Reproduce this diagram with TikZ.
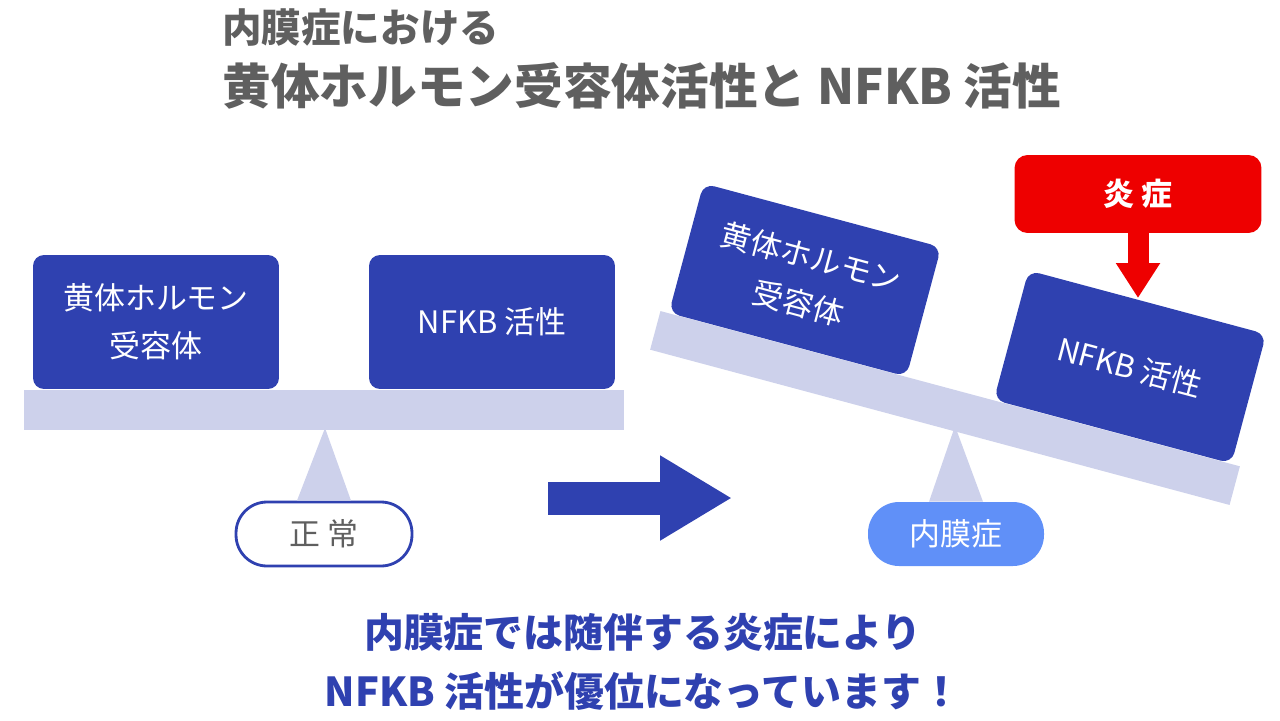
\documentclass[tikz,border=0pt]{standalone}
\usepackage{fontspec}
\setmainfont{Noto Sans CJK JP}
\usetikzlibrary{arrows.meta}
\definecolor{kblue}{HTML}{2F41B0}
\definecolor{klav}{HTML}{CDD1EB}
\definecolor{kpill}{HTML}{6090F8}
\definecolor{kred}{HTML}{EE0000}
\definecolor{kgray}{HTML}{5F5F5F}

\begin{document}
\begin{tikzpicture}[x=0.02cm,y=-0.02cm,
  box/.style={fill=kblue,text=white,rounded corners=0.22cm,minimum width=4.92cm,minimum height=2.68cm,inner sep=0pt,align=center,font=\fontsize{17.6}{27.3}\selectfont},
  beam/.style={fill=klav,minimum width=12cm,minimum height=0.8cm,inner sep=0pt},
  pill/.style={rounded corners=0.62cm,minimum width=3.52cm,minimum height=1.28cm,inner sep=0pt,font=\fontsize{17.6}{20}\selectfont}]
  \useasboundingbox (0,0) rectangle (1280,720);
  % titles
  \node[anchor=west,inner sep=0pt,text=kgray,font=\fontsize{22.5}{26}\selectfont\bfseries] (t1) at (222,28) {内膜症における};
  \node[anchor=west,inner sep=0pt,text=kgray,font=\fontsize{27.7}{32}\selectfont\bfseries] (t2) at (222,86) {黄体ホルモン受容体活性と NFKB 活性};
  % normal balance
  \node[pill,draw=kblue,line width=1.6pt,fill=white,text=kgray] (pN) at (324,534) {正 常};
  \fill[klav] (325,428) -- ([xshift=-0.54cm]pN.north) -- ([xshift=0.54cm]pN.north) -- cycle;
  \node[beam] (bL) at (324,410) {};
  \node[box] (hL) at (156,322) {黄体ホルモン\\受容体};
  \node[box] (nL) at (492,322) {NFKB 活性};
  % arrow between
  \coordinate (gS) at (548,498); \coordinate (gE) at (732,498);
  \draw[kblue,line width=0.66cm,-{Triangle[width=1.6cm,length=1.44cm]}] (gS) -- (gE);
  % endometriosis balance
  \node[pill,fill=kpill,text=white] (pE) at (956,534) {内膜症};
  \fill[klav] (955,426) -- ([xshift=-0.54cm]pE.north) -- ([xshift=0.54cm]pE.north) -- cycle;
  \node[beam,rotate=-15] (bR) at (945,408) {};
  \node[box,rotate=-15] (hR) at (805,280) {黄体ホルモン\\受容体};
  \node[box,rotate=-15] (nR) at (1130,367) {NFKB 活性};
  \node[fill=kred,text=white,rounded corners=0.26cm,minimum width=4.94cm,minimum height=1.56cm,inner sep=0pt,font=\fontsize{17.6}{20}\selectfont\bfseries] (inf) at (1138,194) {炎 症};
  \coordinate (hit) at (1138,298);
  \draw[kred,line width=0.42cm,-{Triangle[width=0.84cm,length=0.7cm]}] (inf.south) -- (hit);
  % conclusion
  \node[align=center,text=kblue,font=\fontsize{22.7}{34}\selectfont\bfseries] (msg) at (643,662) {内膜症では随伴する炎症により\\NFKB 活性が優位になっています！};
\end{tikzpicture}
\end{document}
